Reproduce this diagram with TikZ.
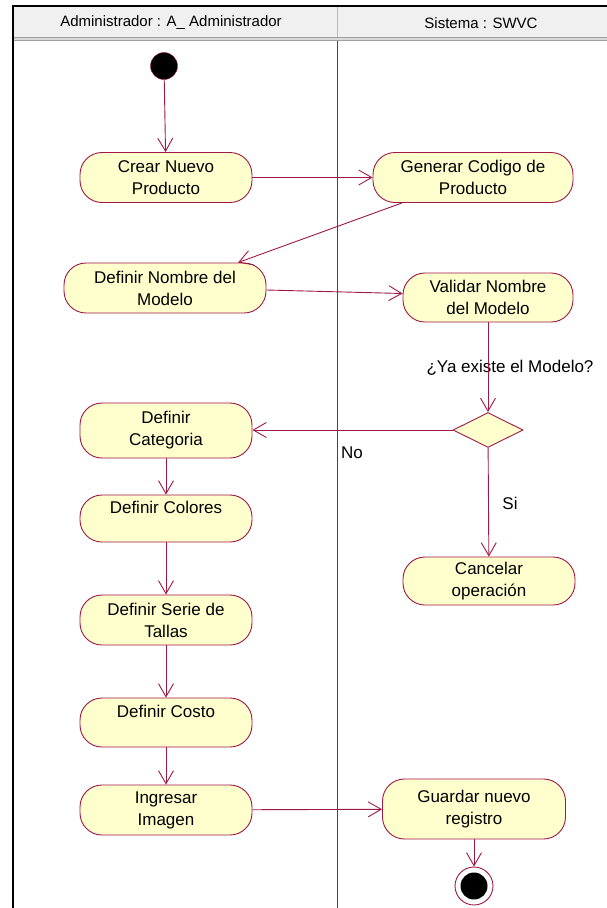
\documentclass[tikz,border=0pt]{standalone}
\usepackage{fontspec}
\setmainfont{Liberation Sans}
\usepackage{tikz}
\usetikzlibrary{arrows.meta}
\usetikzlibrary{positioning,shapes.geometric}
\definecolor{umlred}{RGB}{158,24,72}
\definecolor{umlfill}{RGB}{255,255,206}
\definecolor{headfill}{RGB}{240,240,240}
\newcommand{\actfont}{\fontsize{17}{22}\selectfont}
\tikzset{
    activity/.style={
        draw=umlred,
        fill=umlfill,
        rounded corners=22pt,
        align=center,
        inner sep=0pt,
        line width=0.9pt,
        font=\actfont
    },
    decision/.style={
        diamond,
        draw=umlred,
        fill=umlfill,
        line width=0.9pt,
        minimum width=70pt,
        minimum height=35pt,
        inner sep=0pt
    },
    inicial/.style={
        circle,
        draw=umlred,
        fill=black,
        minimum size=27pt,
        inner sep=0pt
    },
    final/.style={
        circle,
        draw=umlred,
        fill=white,
        line width=0.9pt,
        minimum size=38pt,
        inner sep=0pt,
        path picture={\fill[black] (path picture bounding box.center) circle (13.5pt);}
    },
    flow/.style={
        draw=umlred,
        line width=0.9pt,
        -{Straight Barb[length=13pt, width=15pt, line width=0.9pt]}
    },
    guard/.style={font=\actfont, inner sep=0pt},
    lanehead/.style={font=\fontsize{15}{18}\selectfont, inner sep=0pt}
}

\begin{document}
\begin{tikzpicture}[x=1pt, y=-1pt]
  \useasboundingbox (0,0) rectangle (607,908);

  % Swimlane frame and headers
  \fill[headfill] (13,6) rectangle (607,37);
  \fill[gray!30] (13,37) rectangle (607,41);
  \draw[gray!75, line width=1.2pt] (13,37.5) -- (607,37.5);
  \draw[gray!75, line width=1.2pt] (13,40.5) -- (607,40.5);
  \draw[gray!55, line width=1pt] (337,6) -- (337,37);
  \draw[black, line width=1.3pt] (13,908) -- (13,6) -- (607,6);
  \draw[umlred, line width=1pt] (337,41) -- (337,908);
  \node[lanehead] (admin) at (171,23) {Administrador : A\_ Administrador};
  \node[lanehead] (sistema) at (481,23) {Sistema : SWVC};

  % Administrador lane
  \node[inicial] (inicio) at (164,66) {};
  \node[activity, minimum width=172pt, minimum height=50pt] (crear) at (166,177.5) {Crear Nuevo\\Producto};
  \node[activity, minimum width=202pt, minimum height=50pt] (nombre) at (165,288) {Definir Nombre del\\Modelo};
  \node[activity, minimum width=172pt, minimum height=55pt] (categoria) at (166,430.5) {Definir\\Categoria};
  \node[activity, minimum width=172pt, minimum height=47pt] (colores) at (166,518.5) {Definir Colores\\\mbox{}};
  \node[activity, minimum width=172pt, minimum height=50pt] (serie) at (166,620) {Definir Serie de\\Tallas};
  \node[activity, minimum width=172pt, minimum height=49pt] (costo) at (166,722.5) {Definir Costo\\\mbox{}};
  \node[activity, minimum width=172pt, minimum height=50pt] (ingresar) at (166,810) {Ingresar\\Imagen};

  % Sistema lane
  \node[activity, minimum width=200pt, minimum height=50pt] (generar) at (473,177.5) {Generar Codigo de\\Producto};
  \node[activity, minimum width=170pt, minimum height=49pt] (validar) at (488,297.5) {Validar Nombre\\del Modelo};
  \node[decision] (existe) at (488,430) {};
  \node[activity, minimum width=172pt, minimum height=48pt] (cancelar) at (489,581) {Cancelar\\operación};
  \node[activity, minimum width=183pt, minimum height=60pt] (guardar) at (474,809) {Guardar nuevo\\registro};
  \node[final] (fin) at (474,886) {};

  % Guards
  \node[guard] (pregunta) at (510,368) {¿Ya existe el Modelo?};
  \node[guard] (no) at (352,453) {No};
  \node[guard] (si) at (510,503) {Si};

  % Transitions
  \draw[flow] (inicio) -- (crear);
  \draw[flow] (crear) -- (generar);
  \draw[flow] ([xshift=-71pt]generar.south) -- ([xshift=73pt]nombre.north);
  \draw[flow] ([yshift=-2pt]nombre.east) -- ([yshift=4pt]validar.west);
  \draw[flow] (validar) -- (existe);
  \draw[flow] (existe) -- (existe -| categoria.east);
  \draw[flow] (existe) -- (cancelar);
  \draw[flow] (categoria) -- (colores);
  \draw[flow] (colores) -- (serie);
  \draw[flow] (serie) -- (costo);
  \draw[flow] (costo) -- (ingresar);
  \draw[flow] (ingresar) -- (guardar);
  \draw[flow] (guardar) -- (fin);
\end{tikzpicture}
\end{document}
